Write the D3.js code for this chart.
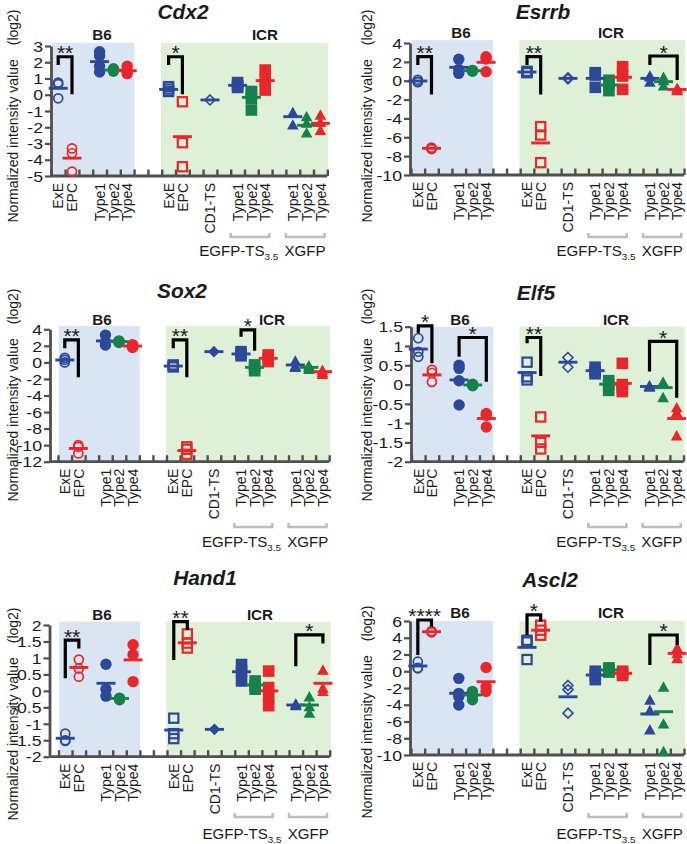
<!DOCTYPE html>
<html><head><meta charset="utf-8">
<script src="https://cdn.jsdelivr.net/npm/d3@7"></script>
<style>html,body{margin:0;padding:0;background:#fff;} svg{display:block;}</style>
</head><body>
<svg id="chart" width="687" height="844"></svg>
<script>
// ---------- categories ----------
const slotLabels = ["ExE","EPC","","Type1","Type2","Type4","","","ExE","EPC","","CD1-TS","","Type1","Type2","Type4","","Type1","Type2","Type4"];
const groupSlots = [0,1,3,4,5,8,9,11,13,14,15,17,18,19];
const groupShapes = ["circleOpen","circleOpen","circle","circle","circle","squareOpen","squareOpen","diamond","square","square","square","triangle","triangle","triangle"];
const groupColors = ["b","r","b","g","r","b","r","b","b","g","r","b","g","r"];
const strainLabels = ["B6","ICR"];
const lineLabels = ["EGFP-TS","XGFP"];
const genes = ["Cdx2","Esrrb","Sox2","Elf5","Hand1","Ascl2"];

// ---------- values (log2) per group ----------
const cdx2Values = [[0.75,0.65,-0.22],[-3.3,-3.6,-4.73],[2.65,2.4,1.75,1.4],[1.6,1.52,1.45],[1.75,1.45,1.3],[0.5,0.35,0.2],[-0.43,-2.95,-4.43],[-0.32],[0.75,0.55,0.45],[0.2,0.1,-0.22,-0.94],[1.52,0.9,0.29],[-1.14,-1.1,-1.86],[-1.35,-1.75,-2.35],[-1.25,-1.7,-2.2]];
const cdx2Means = [0.4,-3.9,2.04,1.52,1.48,0.33,-2.58,-0.32,0.58,-0.16,0.87,-1.35,-1.88,-1.76];
const cdx2Ticks = [3,2,1,0,-1,-2,-3,-4,-5];
const cdx2Sig = [[0,1,2.34,1.83,0.03,"**"],[8,9,2.34,1.83,0.03,"*"]];

const esrrbValues = [[0.1,-0.1,-0.15],[-7.1,-7.2,-7.25],[2.27,1.2,0.78],[1.1,1.05,1.0],[2.55,2.3,0.96],[1.0,0.9,0.85],[-4.87,-5.76,-8.69],[0.3,0.2],[0.85,0.6,-0.7],[0.05,-0.4,-1.05],[1.49,0.5,-0.92],[0.5,0.4,-0.15],[0.36,0.0,-0.56],[-0.8,-0.95,-1.05]];
const esrrbMeans = [-0.03,-7.17,1.42,1.06,1.95,0.92,-6.6,0.25,0.25,-0.46,0.36,0.25,-0.1,-0.93];
const esrrbTicks = [4,2,0,-2,-4,-6,-8,-10];
const esrrbSig = [[0,1,2.55,1.66,-1.45,"**"],[8,9,2.55,1.66,-1.45,"**"],[17,19,2.62,1.66,0.07,"*"]];

const sox2Values = [[0.55,0.3,0.0],[-10.0,-10.2,-11.0],[3.3,2.5,2.1],[2.6,2.5,2.4],[2.15,1.95,1.8],[-0.3,-0.45,-0.55],[-10.2,-10.5,-11.1],[1.3],[1.3,1.05,0.8],[-0.3,-0.5,-1.0],[0.9,0.45,0.1],[0.15,-0.45,-0.6],[-0.4,-0.6,-0.85],[-0.95,-1.2,-1.45]];
const sox2Means = [0.29,-10.4,2.59,2.51,1.98,-0.44,-10.65,1.3,1.02,-0.6,0.49,-0.31,-0.6,-1.12];
const sox2Ticks = [4,2,0,-2,-4,-6,-8,-10,-12];
const sox2Sig = [[0,1,2.71,1.7,-1.8,"**"],[8,9,2.71,1.7,-1.8,"**"],[13,14,3.92,3.1,1.42,"*"]];

const elf5Values = [[1.2,0.85,0.72],[0.38,0.3,0.07],[0.5,0.42,0.1,-0.53],[0.01,-0.01,-0.03],[-0.75,-0.8,-1.1],[0.58,0.2,0.12],[-0.84,-1.5,-1.67],[0.7,0.45],[0.45,0.35,0.28],[0.1,0.0,-0.15],[0.55,0.0,-0.1,-0.18],[-0.03,-0.05,-0.07],[0.04,0.06,-0.34],[-0.6,-0.72,-1.33]];
const elf5Means = [0.92,0.25,0.12,-0.01,-0.88,0.31,-1.33,0.58,0.36,0.01,0.03,-0.05,-0.08,-0.88];
const elf5Ticks = [1.5,1,0.5,0,-0.5,-1,-1.5,-2];
const elf5Sig = [[0,1,1.52,1.33,0.55,"*"],[3,5,1.22,0.72,0.07,"*"],[8,9,1.22,1.07,0.22,"**"],[17,19,1.12,0.34,-0.34,"*"]];

const hand1Values = [[-1.3,-1.5,-1.52],[0.95,0.68,0.43],[0.81,0.05,-0.16],[-0.22,-0.24,-0.27],[1.4,1.1,0.28],[-0.83,-1.3,-1.45],[1.73,1.45,1.3],[-1.17],[0.8,0.6,0.3],[0.3,0.15,0.05],[0.6,0.1,-0.2,-0.45],[-0.4,-0.43,-0.45],[-0.18,-0.48,-0.68],[0.63,0.08,-0.02]];
const hand1Means = [-1.44,0.71,0.23,-0.23,0.94,-1.19,1.46,-1.17,0.58,0.18,0.0,-0.43,-0.43,0.23];
const hand1Ticks = [2,1.5,1,0.5,0,-0.5,-1,-1.5,-2];
const hand1Sig = [[0,1,1.54,0.38,1.29,"**"],[8,9,2.1,0.94,1.85,"**"],[17,19,1.7,0.75,1.44,"*"]];

const ascl2Values = [[1.14,0.4,0.35],[4.8,4.7,4.65],[-0.85,-2.64,-3.0,-4.03],[-2.4,-2.9,-3.4],[0.45,-1.85,-2.4],[3.7,3.5,1.4],[5.5,4.9,4.3],[-1.7,-2.2,-5.0],[0.0,-0.45,-1.0],[0.4,0.1,-0.1],[0.0,-0.25,-0.5],[-3.45,-4.7,-7.0],[-1.9,-6.3,-9.6],[2.8,2.1,1.5]];
const ascl2Means = [0.63,4.72,-2.63,-2.83,-1.25,2.85,4.9,-3.05,-0.45,0.15,-0.25,-5.1,-4.83,2.13];
const ascl2Ticks = [6,4,2,0,-2,-4,-6,-8,-10];
const ascl2Sig = [[0,1,6.12,1.94,5.32,"****"],[8,9,6.72,4.33,5.92,"*"],[17,19,4.33,0.75,3.13,"*"]];

// ---------- styling / layout ----------
const COLORS = {b:"#2c4899", g:"#14824a", r:"#e8262c"};
const BG_B6 = "#dae5f3", BG_ICR = "#def0d6";
const AXIS = "#4f4f4f";
const FONT = "'Liberation Sans', Arial, Helvetica, sans-serif";

const layout = [
  {values:cdx2Values, means:cdx2Means, ticks:cdx2Ticks, sig:cdx2Sig, cdFilled:false,
   axisX:51, slotLeft:51.3, slotW:13.8, yTop:46, yBot:176, bgTop:3.2,
   title:[183,19], b6:[102,40], icr:[265,40], yl:[12,116], brk:237, low:256},
  {values:esrrbValues, means:esrrbMeans, ticks:esrrbTicks, sig:esrrbSig, cdFilled:false,
   axisX:410, slotLeft:411, slotW:13.65, yTop:43, yBot:175, bgTop:4.3,
   title:[543,19], b6:[461,38], icr:[611,38], yl:[366,116], brk:237, low:256},
  {values:sox2Values, means:sox2Means, ticks:sox2Ticks, sig:sox2Sig, cdFilled:true,
   axisX:50, slotLeft:58, slotW:13.56, yTop:329.3, yBot:461.7, bgTop:4.4,
   title:[182,298], b6:[102,325], icr:[272,325], yl:[12,395], brk:527, low:547},
  {values:elf5Values, means:elf5Means, ticks:elf5Ticks, sig:elf5Sig, cdFilled:false,
   axisX:411, slotLeft:411.5, slotW:13.6, yTop:326.7, yBot:461.7, bgTop:1.5,
   title:[536,300], b6:[460,325], icr:[616,325], yl:[366,395], brk:527, low:547},
  {values:hand1Values, means:hand1Means, ticks:hand1Ticks, sig:hand1Sig, cdFilled:true,
   axisX:49.5, slotLeft:58.5, slotW:13.56, yTop:625, yBot:756.7, bgTop:2.1,
   title:[205,585], b6:[102,620], icr:[260,620], yl:[12,714], brk:817, low:839},
  {values:ascl2Values, means:ascl2Means, ticks:ascl2Ticks, sig:ascl2Sig, cdFilled:false,
   axisX:410, slotLeft:411, slotW:13.65, yTop:621, yBot:755, bgTop:6.0,
   title:[550,587], b6:[460,618], icr:[611,618], yl:[366,712], brk:817, low:839}
];

const svg = d3.select("#chart");
svg.append("rect").attr("width",687).attr("height",844).attr("fill","#fff");

function txt(parent, x, y, s, o) {
  const gg = parent.append("g").attr("transform",
    `translate(${x},${y}) scale(${o.sx||1},1)` + (o.rot ? ` rotate(${o.rot})` : ""));
  const t = gg.append("text")
    .attr("font-family", FONT).attr("font-size", o.size)
    .attr("font-weight", o.weight || "normal").attr("font-style", o.style || "normal")
    .attr("text-anchor", o.anchor || "middle").attr("fill", o.fill || "#1a1a1a");
  if (o.dy) t.attr("dy", o.dy);
  if (s !== null) t.text(s);
  return t;
}

function drawMarker(g, shape, cx, cy, col, filledDiamond) {
  if (shape === "circle") {
    g.append("circle").attr("cx",cx).attr("cy",cy).attr("r",5.7).attr("fill",col);
  } else if (shape === "circleOpen") {
    g.append("circle").attr("cx",cx).attr("cy",cy).attr("r",4.5).attr("fill","none").attr("stroke",col).attr("stroke-width",1.7);
  } else if (shape === "square") {
    g.append("rect").attr("x",cx-5.8).attr("y",cy-5.8).attr("width",11.6).attr("height",11.6).attr("fill",col);
  } else if (shape === "squareOpen") {
    g.append("rect").attr("x",cx-4.6).attr("y",cy-4.6).attr("width",9.2).attr("height",9.2).attr("fill","none").attr("stroke",col).attr("stroke-width",2.2);
  } else if (shape === "triangle") {
    g.append("path").attr("d",`M${cx},${cy-5.8}L${cx+5.8},${cy+4.6}L${cx-5.8},${cy+4.6}Z`).attr("fill",col);
  } else if (shape === "diamond") {
    if (filledDiamond) {
      g.append("path").attr("d",`M${cx},${cy-5.8}L${cx+5.8},${cy}L${cx},${cy+5.8}L${cx-5.8},${cy}Z`).attr("fill",col);
    } else {
      g.append("path").attr("d",`M${cx},${cy-5}L${cx+5},${cy}L${cx},${cy+5}L${cx-5},${cy}Z`).attr("fill","none").attr("stroke",col).attr("stroke-width",1.6);
    }
  }
}

layout.forEach((p, pi) => {
  const g = svg.append("g");
  const tmin = p.ticks[p.ticks.length-1], tmax = p.ticks[0];
  const x = d3.scaleLinear().domain([-0.5, 19.5]).range([p.slotLeft, p.slotLeft + 20*p.slotW]);
  const y = d3.scaleLinear().domain([tmin, tmax]).range([p.yBot, p.yTop]);

  // backgrounds
  g.append("rect").attr("x", x(-0.45)).attr("y", y(p.bgTop))
    .attr("width", x(5.52)-x(-0.45)).attr("height", y(tmin)-y(p.bgTop)).attr("fill", BG_B6);
  g.append("rect").attr("x", x(7.45)).attr("y", y(p.bgTop))
    .attr("width", Math.min(x(19.57), 687)-x(7.45)).attr("height", y(tmin)-y(p.bgTop)).attr("fill", BG_ICR);

  // x axis (ticks at slot boundaries, pointing up)
  const bounds = d3.range(-0.5, 20, 1);
  const xa = g.append("g").attr("transform", `translate(0,${p.yBot})`)
    .call(d3.axisBottom(x).tickValues(bounds).tickSize(-6.5).tickSizeOuter(0).tickFormat(""));
  xa.select(".domain").remove();
  xa.selectAll(".tick line").attr("stroke", AXIS).attr("stroke-width", 2.4);
  g.append("line").attr("x1", p.axisX).attr("x2", x(19.5)).attr("y1", p.yBot).attr("y2", p.yBot)
    .attr("stroke", AXIS).attr("stroke-width", 2.8);

  // y axis
  const ya = g.append("g").attr("transform", `translate(${p.axisX},0)`)
    .call(d3.axisLeft(y).tickValues(p.ticks).tickSize(6).tickSizeOuter(0).tickFormat(d => String(d)));
  ya.select(".domain").attr("stroke", AXIS).attr("stroke-width", 2.8);
  ya.selectAll(".tick line").attr("stroke", AXIS).attr("stroke-width", 2.2);
  ya.selectAll(".tick text").attr("font-family", FONT).attr("font-size", 14.5).attr("fill", "#1a1a1a")
    .attr("x", -8/1.22).attr("dy", "0.36em").attr("transform", "scale(1.22,1)");

  // points
  const pts = g.append("g");
  p.values.forEach((vals, gi) => {
    const cx = x(groupSlots[gi]);
    vals.forEach(v => drawMarker(pts, groupShapes[gi], cx, y(v), COLORS[groupColors[gi]], p.cdFilled));
  });
  // mean lines
  g.selectAll(".mean").data(p.means).enter().append("line")
    .attr("x1", (d,i) => x(groupSlots[i]) - 9.5).attr("x2", (d,i) => x(groupSlots[i]) + 9.5)
    .attr("y1", d => y(d)).attr("y2", d => y(d))
    .attr("stroke", (d,i) => COLORS[groupColors[i]]).attr("stroke-width", 2.9);

  // significance brackets
  p.sig.forEach(s => {
    const [a, b, top, le, re, lab] = s;
    g.append("path").attr("d", `M${x(a)},${y(le)}V${y(top)}H${x(b)}V${y(re)}`)
      .attr("fill","none").attr("stroke","#000").attr("stroke-width",3.2);
    txt(g, (x(a)+x(b))/2, y(top)+3.5, lab, {size:21});
  });

  // category labels
  slotLabels.forEach((lab, i) => {
    if (!lab) return;
    txt(g, x(i), p.yBot + 7, lab, {size:14, anchor:"end", rot:-90, dy:"0.36em", sx:1.03});
  });

  // grey group brackets
  [[12.5,15.3],[16.5,19.3]].forEach(([a,b]) => {
    g.append("path").attr("d", `M${x(a)},${p.brk-4}V${p.brk}H${x(b)}V${p.brk-4}`)
      .attr("fill","none").attr("stroke","#bdbdbd").attr("stroke-width",2.6);
  });
  const t1 = txt(g, x(15.95), p.low, null, {size:14.5, anchor:"end", sx:1.04});
  t1.append("tspan").text(lineLabels[0]);
  t1.append("tspan").attr("font-size", 9.5).attr("dy", 4).text("3.5");
  txt(g, x(16.4), p.low, lineLabels[1], {size:14.5, anchor:"start", sx:1.04});

  // titles & strain labels
  txt(g, p.title[0], p.title[1], genes[pi], {size:19.5, weight:"bold", style:"italic", sx:1.07});
  txt(g, p.b6[0], p.b6[1], strainLabels[0], {size:14.5, weight:"bold", sx:1.05});
  txt(g, p.icr[0], p.icr[1], strainLabels[1], {size:14.5, weight:"bold", sx:1.05});

  // y label
  const yl = txt(g, p.yl[0], p.yl[1], null, {size:14, rot:-90, dy:"0.36em", sx:1.1});
  yl.append("tspan").text("Normalized intensity value");
  yl.append("tspan").attr("dx", 14).text("(log2)");
});
</script>
</body></html>
